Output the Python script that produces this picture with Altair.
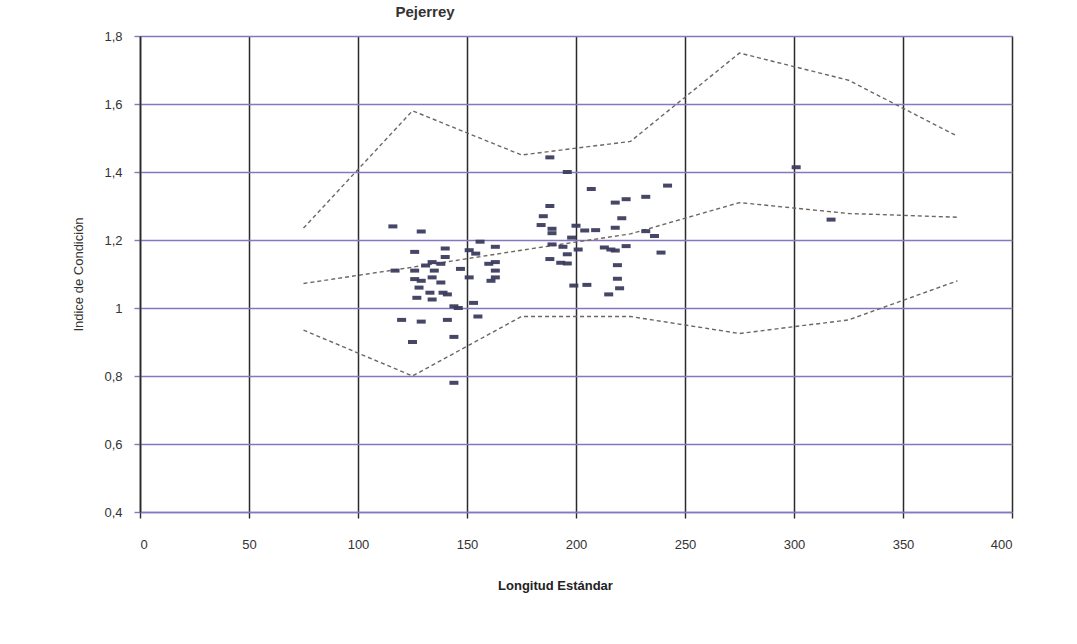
import altair as alt
import pandas as pd

title_text = "Pejerrey"
x_title = "Longitud Estándar"
y_title = "Indice de Condición"

x_ticks = [0, 50, 100, 150, 200, 250, 300, 350, 400]
y_ticks = [0.4, 0.6, 0.8, 1.0, 1.2, 1.4, 1.6, 1.8]

# reference curves
line_x = [75, 125, 175, 225, 275, 325, 375]
upper_y = [1.235, 1.58, 1.45, 1.49, 1.75, 1.67, 1.505]
middle_y = [1.072, 1.12, 1.17, 1.218, 1.31, 1.278, 1.267]
lower_y = [0.935, 0.80, 0.975, 0.975, 0.925, 0.965, 1.08]

# observed fish
pts_x = [116, 129, 126, 140, 140, 117, 126, 131, 134, 138,
         135, 147, 126, 129, 134, 138, 128, 133, 139, 141,
         127, 134, 144, 146, 120, 129, 141, 125, 144, 153,
         151, 155, 156, 154, 151, 163, 163, 160, 163, 163,
         161, 144,
         188, 196, 207, 242, 188, 218, 223, 232, 185, 221,
         184, 189, 189, 200, 204, 209, 218, 198, 232, 236,
         189, 194, 201, 213, 216, 218, 223, 196, 239, 188,
         193, 196, 219, 219, 199, 205, 220, 215, 301, 317]
pts_y = [1.24, 1.225, 1.165, 1.175, 1.15, 1.11, 1.11, 1.125, 1.135, 1.13,
         1.11, 1.115, 1.085, 1.08, 1.09, 1.075, 1.06, 1.045, 1.045, 1.04,
         1.03, 1.025, 1.005, 1.0, 0.965, 0.96, 0.965, 0.90, 0.915, 1.015,
         1.09, 0.975, 1.195, 1.16, 1.17, 1.18, 1.135, 1.13, 1.11, 1.09,
         1.08, 0.78,
         1.443, 1.40, 1.35, 1.36, 1.30, 1.31, 1.32, 1.327, 1.27, 1.264,
         1.244, 1.233, 1.22, 1.242, 1.228, 1.229, 1.236, 1.207, 1.226, 1.212,
         1.187, 1.18, 1.172, 1.178, 1.172, 1.169, 1.182, 1.158, 1.163, 1.144,
         1.133, 1.131, 1.126, 1.086, 1.066, 1.068, 1.058, 1.04, 1.414, 1.26]

rows = []
for name, ys in (("sup", upper_y), ("med", middle_y), ("inf", lower_y)):
    for xv, yv in zip(line_x, ys):
        rows.append({"serie": name, "x": xv, "y": yv})
lines_df = pd.DataFrame(rows)
pts_df = pd.DataFrame({"x": pts_x, "y": pts_y})

FONT = "Liberation Sans"
HGRID = "#8578c0"

x_enc = alt.X("x:Q",
              scale=alt.Scale(domain=[0, 400], nice=False, zero=False),
              axis=alt.Axis(values=x_ticks, title=x_title, grid=True,
                            gridColor="#2a2a2a", gridWidth=1.5,
                            domainColor=HGRID, domainWidth=1.6,
                            tickColor="#2a2a2a", tickSize=6, tickWidth=1.4,
                            labelPadding=20, labelFontSize=13, labelColor="#333",
                            labelFont=FONT, titleFont=FONT, titleFontSize=13,
                            titleFontWeight="bold", titleColor="#222",
                            titlePadding=28, titleX=415))
y_enc = alt.Y("y:Q",
              scale=alt.Scale(domain=[0.4, 1.8], nice=False, zero=False),
              axis=alt.Axis(values=y_ticks, title=y_title, grid=True,
                            gridColor=HGRID, gridWidth=1.6,
                            domainColor="#2a2a2a", domainWidth=1.6,
                            tickColor=HGRID, tickSize=6, tickWidth=1.4,
                            labelPadding=12, labelFontSize=13, labelColor="#333",
                            labelFont=FONT, titleFont=FONT, titleFontSize=13,
                            titleFontWeight="normal", titleColor="#333",
                            titlePadding=18,
                            labelExpr="replace(format(datum.value, '.1~f'), '.', ',')"))

lines = alt.Chart(lines_df).mark_line(
    strokeDash=[4, 3], strokeWidth=1.4, color="#6f6660"
).encode(x=x_enc, y=y_enc, detail="serie:N")

points = alt.Chart(pts_df).mark_tick(
    orient="horizontal", size=9, thickness=4, color="#3c3d5e", opacity=0.95
).encode(x="x:Q", y="y:Q")

chart = alt.layer(lines, points).properties(
    width=872, height=476,
    title=alt.TitleParams(title_text, anchor="middle", dx=-151, offset=10,
                          fontSize=15, fontWeight="bold", font=FONT, color="#333"),
    autosize=alt.AutoSizeParams(type="none"),
    padding={"left": 140, "top": 36, "right": 65, "bottom": 132},
).configure_view(stroke=None).configure(background="white")

chart.save("out.html", embed_options={"renderer": "svg", "actions": False})
